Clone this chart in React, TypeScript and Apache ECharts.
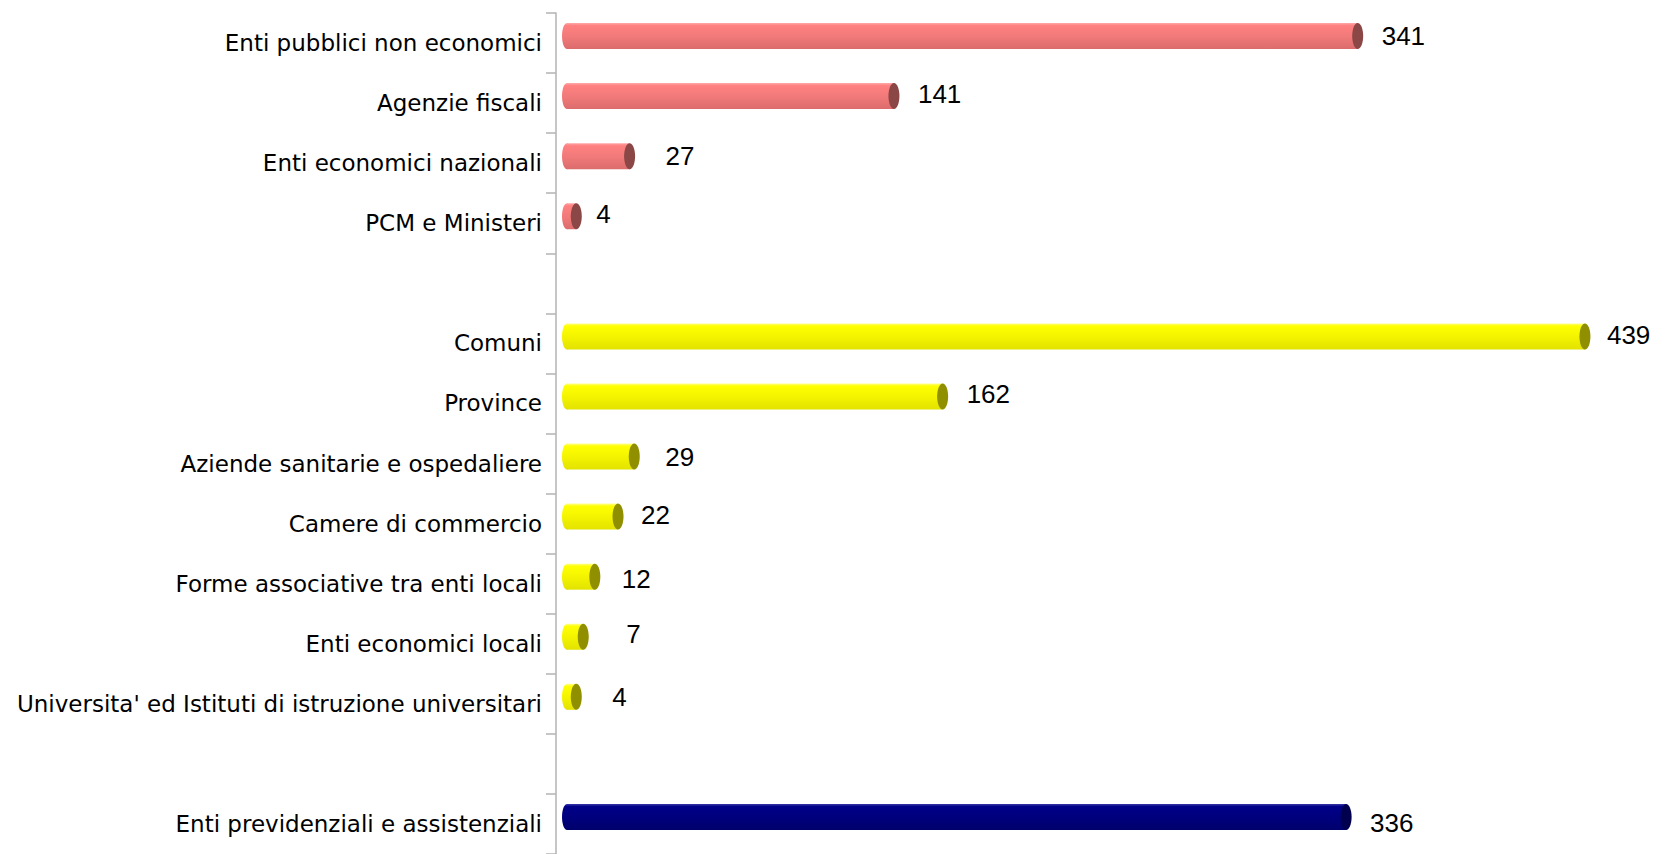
import React, { useEffect, useRef } from "react";
import * as echarts from "echarts";

// Categories top to bottom (blank rows are the gaps between groups)
const statCategories = ["Enti pubblici non economici", "Agenzie fiscali", "Enti economici nazionali", "PCM e Ministeri"];
const statValues = [341, 141, 27, 4];
const localCategories = [
  "Comuni",
  "Province",
  "Aziende sanitarie e ospedaliere",
  "Camere di commercio",
  "Forme associative tra enti locali",
  "Enti economici locali",
  "Universita' ed Istituti di istruzione universitari",
];
const localValues = [439, 162, 29, 22, 12, 7, 4];
const prevCategories = ["Enti previdenziali e assistenziali"];
const prevValues = [336];

// label distance from the cap (styling)
const labelGaps = [18, 18, 30, 14, 0, 16, 18, 25, 17, 21, 37, 30, 0, 18];
const labelShiftY = [0, -2, 0, -2, 0, -1, -2, 0, -2, 2, -3, 0, 0, 6];

const palettes = {
  red: { stops: ["#ffa8a8", "#ff8080", "#f27a7a", "#dc6c6c"], cap: "#8b4646" },
  yellow: { stops: ["#ffff90", "#ffff00", "#f4f400", "#e2e200"], cap: "#8f8f00" },
  navy: { stops: ["#3a3aa8", "#000088", "#00007e", "#00006c"], cap: "#00004e" },
};

export default function App() {
  const ref = useRef<HTMLDivElement>(null);
  useEffect(() => {
    if (!ref.current) return;
    const chart = echarts.init(ref.current, null, { renderer: "svg" });

    const categories = [...statCategories, " ", ...localCategories, "  ", ...prevCategories];
    const data: any[] = [];
    statValues.forEach((v, i) => data.push({ value: [v, i], pal: "red" }));
    localValues.forEach((v, i) => data.push({ value: [v, statCategories.length + 1 + i], pal: "yellow" }));
    prevValues.forEach((v, i) =>
      data.push({ value: [v, statCategories.length + 1 + localCategories.length + 1 + i], pal: "navy" })
    );

    const renderItem = (params: any, api: any) => {
      const item = data[params.dataIndex];
      const pal = (palettes as any)[item.pal];
      const v = api.value(0);
      const idx = api.value(1);
      const start = api.coord([0, idx]);
      const end = api.coord([v, idx]);
      const h = 26;
      const dx = 11;
      const dy = -7;
      const x0 = start[0] + dx;
      const x1 = end[0] + dx;
      const cy = start[1] + dy;
      const grad = {
        type: "linear",
        x: 0,
        y: 0,
        x2: 0,
        y2: 1,
        colorStops: [
          { offset: 0, color: pal.stops[0] },
          { offset: 0.1, color: pal.stops[1] },
          { offset: 0.5, color: pal.stops[2] },
          { offset: 1, color: pal.stops[3] },
        ],
      };
      const gap = labelGaps[idx] || 18;
      const sy = labelShiftY[idx] || 0;
      return {
        type: "group",
        children: [
          { type: "ellipse", shape: { cx: x0, cy, rx: 5, ry: h / 2 }, style: { fill: grad } },
          { type: "rect", shape: { x: x0, y: cy - h / 2, width: Math.max(x1 - x0, 0), height: h }, style: { fill: grad } },
          { type: "ellipse", shape: { cx: x1, cy, rx: 5.5, ry: h / 2 }, style: { fill: pal.cap } },
          {
            type: "text",
            style: {
              x: x1 + 6 + gap,
              y: cy + sy,
              text: String(v),
              fill: "#000",
              font: "26px 'Liberation Sans', Arial, sans-serif",
              verticalAlign: "middle",
              align: "left",
            },
          },
        ],
      };
    };

    chart.setOption({
      animation: false,
      backgroundColor: "#ffffff",
      grid: { left: 556, top: 13, width: 1131.8, height: 844, containLabel: false },
      xAxis: { type: "value", min: 0, max: 480, show: false },
      yAxis: {
        type: "category",
        inverse: true,
        data: categories,
        axisLine: { show: true, lineStyle: { color: "#b3b3b3", width: 1.5 } },
        axisTick: { show: true, length: 10, lineStyle: { color: "#b3b3b3", width: 1.5 } },
        axisLabel: {
          color: "#000",
          fontSize: 23,
          fontFamily: "DejaVu Sans",
          margin: 14,
          padding: [0, 0, 4, 0],
        },
        splitLine: { show: false },
      },
      series: [
        {
          type: "custom",
          renderItem,
          data: data.map((d) => d.value),
          encode: { x: 0, y: 1 },
          clip: false,
        },
      ],
    });
    return () => chart.dispose();
  }, []);
  return (
    <div
      ref={ref}
      style={{ position: "absolute", left: 0, top: 0, width: 1669, height: 854 }}
    />
  );
}
